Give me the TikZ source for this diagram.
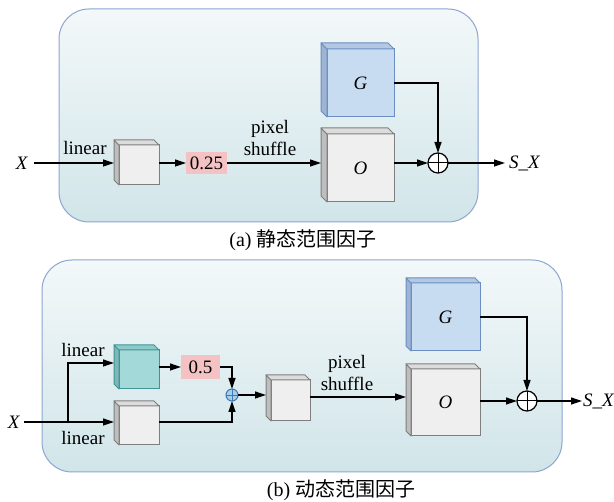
\documentclass[tikz,border=0pt]{standalone}
\usepackage{fontspec}
\setmainfont{Liberation Serif}
\newfontfamily\cjk{Noto Sans CJK SC}
\usetikzlibrary{arrows.meta,calc}
\definecolor{paneltop}{HTML}{F3F8F9}
\definecolor{panelbot}{HTML}{D1E5E9}
\definecolor{panelline}{HTML}{8CA5D3}
\definecolor{grline}{HTML}{7F7F7F}
\definecolor{grfront}{HTML}{EFEFEF}
\definecolor{grside}{HTML}{BEBEBE}
\definecolor{grtop}{HTML}{DCDCDC}
\definecolor{blline}{HTML}{6A8EC4}
\definecolor{blfront}{HTML}{C8DCF1}
\definecolor{blside}{HTML}{9FB4D2}
\definecolor{bltop}{HTML}{B4C8E2}
\definecolor{tlline}{HTML}{3F9494}
\definecolor{tlfront}{HTML}{A3D9D9}
\definecolor{tlside}{HTML}{7DB8B8}
\definecolor{tltop}{HTML}{8FCACA}
\definecolor{pinkbox}{HTML}{F4C2C2}
\definecolor{smfill}{HTML}{A8CFE8}
\definecolor{smline}{HTML}{3A7AB8}
\tikzset{
  x=1pt, y=-1pt,
  arr/.style={line width=1.2pt, -{Triangle[length=11pt,width=7pt]}},
  panel/.style={draw=panelline, line width=1pt, rounded corners=30pt, top color=paneltop, bottom color=panelbot},
  lbl/.style={font=\fontsize{19}{22}\selectfont, inner sep=0pt, outer sep=0pt, align=center},
  captext/.style={font=\fontsize{20}{24}\selectfont, inner sep=0pt},
  factor/.style={fill=pinkbox, inner sep=0pt, outer sep=0pt, font=\fontsize{19}{22}\selectfont},
  bigsum/.style={circle, draw, line width=1.2pt, fill=white, minimum size=20pt, inner sep=0pt, outer sep=0pt},
  smallsum/.style={circle, draw=smline, line width=1pt, fill=smfill, minimum size=12pt, inner sep=0pt, outer sep=0pt},
}
% #1 name, #2 x, #3 y, #4 w, #5 h, #6 depth, #7 colour prefix, #8 content
\newcommand\cubebox[8]{%
  \node[draw=#7line, fill=#7front, line width=1pt, minimum width=#4pt, minimum height=#5pt,
        inner sep=0pt, outer sep=0pt, font=\fontsize{19}{22}\selectfont] (#1) at (#2,#3) {#8};
  \filldraw[draw=#7line, fill=#7side, line width=1pt, line join=round]
    (#1.north west) -- ++(-#6,-#6) -- ++(0,#5) -- (#1.south west) -- cycle;
  \filldraw[draw=#7line, fill=#7top, line width=1pt, line join=round]
    (#1.north west) -- ++(-#6,-#6) -- ++(#4,0) -- (#1.north east) -- cycle;
}
\newcommand\sumcross[1]{\draw[line width=1pt] (#1.north) -- (#1.south) (#1.west) -- (#1.east);}
\begin{document}
\begin{tikzpicture}
\useasboundingbox[fill=white] (0,0) rectangle (614,502);

% ---------------- panel (a) ----------------
\draw[panel] (59,9) rectangle (478,222);
\node[lbl] (Xa) at (22,163) {\textit{X}};
\cubebox{ca}{139}{165}{40}{40}{5}{gr}{}
\node[factor, minimum width=41pt, minimum height=22pt] (pa) at (206.5,163) {0.25};
\cubebox{Oa}{360.5}{168}{67}{68}{6}{gr}{\textit{O}}
\cubebox{Ga}{360.5}{83}{67}{68}{6}{bl}{\textit{G}}
\node[bigsum] (sa) at (438,163) {};
\sumcross{sa}
\coordinate (enda) at (505,163);
\node[lbl, anchor=west] (SXa) at (509,163) {\textit{S\_X}};
\node[lbl] (lina) at (85,148) {linear};
\node[lbl] (psa) at (270,138) {pixel\\shuffle};

\draw[arr, shorten <=6pt, shorten >=5pt] (Xa.east) -- (Xa.east -| ca.west);
\draw[arr] (ca.east |- pa.west) -- (pa.west);
\draw[arr, shorten >=6pt] (pa.east) -- (pa.east -| Oa.west);
\draw[arr] (Oa.east |- sa.west) -- (sa.west);
\draw[arr] (Ga.east) -| (sa.north);
\draw[arr] (sa.east) -- (enda);
\node[captext] (capa) at (303,240) {(a) {\cjk 静态范围因子}};

% ---------------- panel (b) ----------------
\draw[panel] (42,260) rectangle (562,472);
\node[lbl] (Xb) at (14,422) {\textit{X}};
\coordinate (br) at (68,422);
\cubebox{tc}{139}{369.5}{40}{39}{5}{tl}{}
\cubebox{lc}{139}{425.5}{40}{39}{5}{gr}{}
\node[factor, minimum width=39pt, minimum height=24pt] (pb) at (200.5,367) {0.5};
\node[smallsum] (sm) at (232,395) {};
\draw[line width=0.8pt, draw=smline] (sm.north) -- (sm.south) (sm.west) -- (sm.east);
\cubebox{mc}{290.5}{400.5}{39}{41}{5}{gr}{}
\cubebox{Ob}{445.5}{402.5}{69}{67}{5}{gr}{\textit{O}}
\cubebox{Gb}{445.5}{317}{69}{68}{5}{bl}{\textit{G}}
\node[bigsum] (sb) at (527,401) {};
\sumcross{sb}
\coordinate (endb) at (582,401);
\node[lbl, anchor=west] (SXb) at (583,401) {\textit{S\_X}};
\node[lbl] (linb1) at (83,350) {linear};
\node[lbl] (linb2) at (83,438) {linear};
\node[lbl] (psb) at (347,373) {pixel\\shuffle};

\draw[arr, shorten <=4pt, shorten >=5pt] (Xb.east) -- (Xb.east -| lc.west);
\draw[arr, shorten >=5pt] (br) |- ($(tc.west)+(0,-6.5)$);
\draw[arr] ($(tc.east)+(0,-2.5)$) -- (pb.west);
\draw[arr] (pb.east) -| (sm.north);
\draw[arr] ($(lc.east)+(0,-3.5)$) -| (sm.south);
\draw[arr, shorten >=5pt] (sm.east) -- (sm.east -| mc.west);
\coordinate (mco) at ($(mc.east)+(0,-3.5)$);
\draw[arr, shorten >=5pt] (mco) -- (mco -| Ob.west);
\draw[arr] (Ob.east |- sb.west) -- (sb.west);
\draw[arr] (Gb.east) -| (sb.north);
\draw[arr] (sb.east) -- (endb);
\node[captext] (capb) at (341,490) {(b) {\cjk 动态范围因子}};
\end{tikzpicture}
\end{document}
